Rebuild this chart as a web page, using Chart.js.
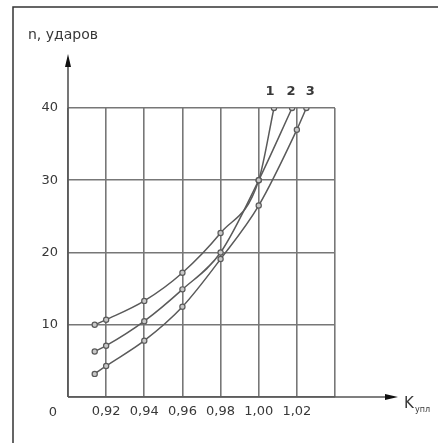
<!DOCTYPE html>
<html>
<head>
<meta charset="utf-8">
<script src="https://cdn.jsdelivr.net/npm/chart.js@4"></script>
<style>
  html, body { margin: 0; padding: 0; background: #fff; }
  #wrap { width: 438px; height: 443px; }
</style>
</head>
<body>
<div id="wrap"><canvas id="chart" width="438" height="443"></canvas></div>
<script>
// data
const seriesNames = ['1', '2', '3'];
const k1 = [0.914, 0.92, 0.94, 0.96, 0.98, 1.00, 1.008];
const n1 = [10, 10.7, 13.3, 17.2, 22.7, 30, 40];
const k2 = [0.914, 0.92, 0.94, 0.96, 0.98, 1.00, 1.0175];
const n2 = [6.3, 7.1, 10.5, 14.9, 20, 30, 40];
const k3 = [0.914, 0.92, 0.94, 0.96, 0.98, 1.00, 1.02, 1.025];
const n3 = [3.2, 4.3, 7.8, 12.5, 19.1, 26.5, 37, 40];
const xTicks = [0.92, 0.94, 0.96, 0.98, 1.00, 1.02];
const yTicks = [10, 20, 30, 40];

const toPts = (xs, ys) => xs.map((x, i) => ({ x: x, y: ys[i] }));

const lineCol = '#5a5a5a';
const gridCol = '#777';
const textCol = '#383838';
const font = 'DejaVu Sans';

function ds(name, xs, ys) {
  return {
    label: name,
    data: toPts(xs, ys),
    borderColor: lineCol,
    borderWidth: 1.5,
    pointRadius: 2.6,
    pointBorderWidth: 1.2,
    pointBorderColor: lineCol,
    pointBackgroundColor: '#c8c8c8',
    cubicInterpolationMode: 'monotone',
    fill: false
  };
}

// frame, axes with arrows, axis titles and curve numbers
const extras = {
  id: 'extras',
  afterDraw(chart) {
    const ctx = chart.ctx;
    const xs = chart.scales.x, ys = chart.scales.y;
    const x0 = xs.getPixelForValue(0.90);
    const y0 = ys.getPixelForValue(0);
    ctx.save();
    // frame
    ctx.strokeStyle = '#333';
    ctx.lineWidth = 1.5;
    ctx.beginPath();
    ctx.moveTo(13, 443);
    ctx.lineTo(13, 7);
    ctx.lineTo(438, 7);
    ctx.stroke();

    // axes
    ctx.strokeStyle = '#555';
    ctx.lineWidth = 1.6;
    ctx.beginPath();
    ctx.moveTo(x0, y0);
    ctx.lineTo(x0, 62);
    ctx.moveTo(x0, y0);
    ctx.lineTo(390, y0);
    ctx.stroke();
    ctx.fillStyle = '#111';
    ctx.beginPath();
    ctx.moveTo(x0, 54);
    ctx.lineTo(x0 - 3, 67);
    ctx.lineTo(x0 + 3, 67);
    ctx.closePath();
    ctx.fill();
    ctx.beginPath();
    ctx.moveTo(398, y0);
    ctx.lineTo(385, y0 - 3);
    ctx.lineTo(385, y0 + 3);
    ctx.closePath();
    ctx.fill();

    // titles
    ctx.fillStyle = textCol;
    ctx.textBaseline = 'middle';
    ctx.textAlign = 'left';
    ctx.font = '14px "' + font + '"';
    ctx.fillText('n, ударов', 28, 35);
    ctx.font = '15px "' + font + '"';
    ctx.fillText('K', 404, 404);
    ctx.font = '8px "' + font + '"';
    ctx.fillText('упл', 415, 410);
    ctx.font = '13px "' + font + '"';
    ctx.textAlign = 'center';
    ctx.fillText('0', 53, 413);

    // curve numbers above last points
    ctx.font = 'bold 13px "' + font + '"';
    chart.data.datasets.forEach((d, i) => {
      const last = d.data[d.data.length - 1];
      const px = xs.getPixelForValue(last.x);
      const py = ys.getPixelForValue(last.y);
      const shift = [-4, -1, 4][i];
      ctx.fillText(seriesNames[i], px + shift, py - 16);
    });
    ctx.restore();
  }
};

new Chart(document.getElementById('chart'), {
  type: 'line',
  data: {
    datasets: [ds('1', k1, n1), ds('2', k2, n2), ds('3', k3, n3)]
  },
  options: {
    responsive: false,
    animation: false,
    layout: { padding: { left: 0, right: 103, top: 108, bottom: 0 } },
    plugins: { legend: { display: false }, tooltip: { enabled: false } },
    scales: {
      x: {
        type: 'linear',
        min: 0.90,
        max: 1.04,
        afterFit(s) { s.height = 46; },
        afterBuildTicks(s) {
          s.ticks = [0.90].concat(xTicks, [1.04]).map(v => ({ value: v }));
        },
        ticks: {
          color: textCol,
          font: { family: font, size: 13 },
          padding: 7,
          maxRotation: 0,
          autoSkip: false,
          callback: v => xTicks.some(t => Math.abs(t - v) < 1e-6) ? v.toFixed(2).replace('.', ',') : ''
        },
        grid: { color: gridCol, lineWidth: 1.6, drawTicks: false },
        border: { display: false }
      },
      y: {
        min: 0,
        max: 40,
        afterFit(s) { s.width = 68; },
        afterBuildTicks(s) {
          s.ticks = [0].concat(yTicks).map(v => ({ value: v }));
        },
        ticks: {
          color: textCol,
          font: { family: font, size: 13 },
          padding: 10,
          callback: v => v === 0 ? '' : String(v)
        },
        grid: { color: gridCol, lineWidth: 1.6, drawTicks: false },
        border: { display: false }
      }
    }
  },
  plugins: [extras]
});
</script>
</body>
</html>
